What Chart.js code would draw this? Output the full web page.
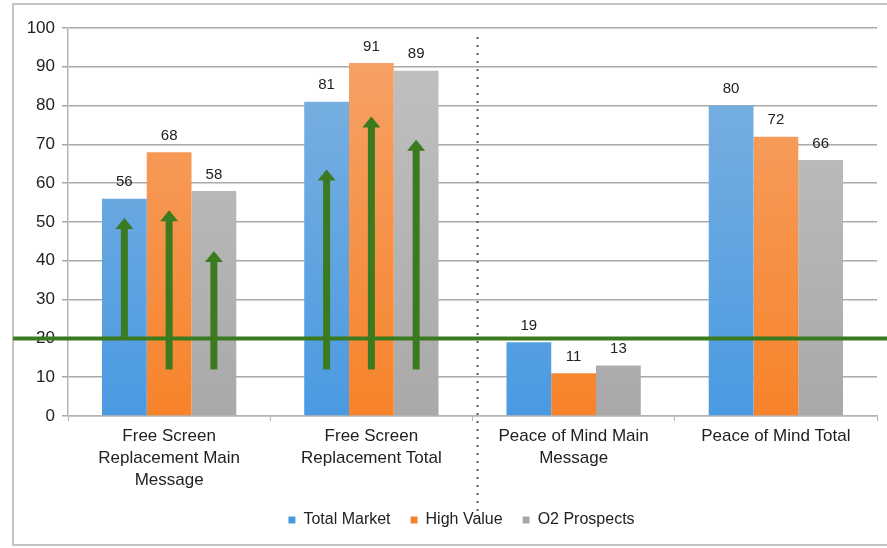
<!DOCTYPE html>
<html lang="en">
<head>
    <meta charset="UTF-8">
    <title>Free Screen Replacement vs Peace of Mind</title>
    <script src="https://cdn.jsdelivr.net/npm/chart.js"></script>
    <style>
        body {
            margin: 0;
            background: #ffffff;
        }
        canvas {
            display: block;
        }
    </style>
</head>
<body>
    <canvas id="msgChart" width="887" height="548"></canvas>

    <script>
        const categories = [
            ["Free Screen", "Replacement Main", "Message"],
            ["Free Screen", "Replacement Total"],
            ["Peace of Mind Main", "Message"],
            ["Peace of Mind Total"]
        ];
        const seriesNames = ["Total Market", "High Value", "O2 Prospects"];
        const totalMarket = [56, 81, 19, 80];
        const highValue = [68, 91, 11, 72];
        const o2Prospects = [58, 89, 13, 66];
        const yMin = 0;
        const yMax = 100;
        const yStep = 10;

        // green target line + arrows (category, series, from value, to value)
        const thresholdValue = 20;
        const arrowCategory = [0, 0, 0, 1, 1, 1];
        const arrowSeries = [0, 1, 2, 0, 1, 2];
        const arrowFrom = [20, 12, 12, 12, 12, 12];
        const arrowTo = [51, 53, 42.5, 63.5, 77.2, 71.2];

        const FONT = '"Liberation Sans", Arial, sans-serif';
        const GREEN = '#3b7a1e';

        function grad(top, bottom) {
            return (ctx) => {
                const area = ctx.chart.chartArea;
                if (!area) return bottom;
                const g = ctx.chart.ctx.createLinearGradient(0, area.top, 0, area.bottom);
                g.addColorStop(0, top);
                g.addColorStop(1, bottom);
                return g;
            };
        }

        const frame = {
            id: 'frame',
            afterLayout(chart) {
                // legend sits a bit right of centre in the original
                chart.legend.left += 16;
                chart.legend.right += 16;
            },
            beforeDraw(chart) {
                const c = chart.ctx;
                c.save();
                c.fillStyle = '#fff';
                c.fillRect(0, 0, chart.width, chart.height);
                c.strokeStyle = '#c4c4c4';
                c.lineWidth = 2;
                c.strokeRect(13, 4, chart.width, chart.height - 7);
                c.restore();
            }
        };

        const valueLabels = {
            id: 'valueLabels',
            afterDatasetsDraw(chart) {
                const c = chart.ctx;
                c.save();
                c.font = '15px ' + FONT;
                c.fillStyle = '#222';
                c.textAlign = 'center';
                c.textBaseline = 'bottom';
                chart.data.datasets.forEach((ds, i) => {
                    chart.getDatasetMeta(i).data.forEach((bar, j) => {
                        c.fillText(ds.data[j], bar.x, bar.y - 9);
                    });
                });
                c.restore();
            }
        };

        const overlay = {
            id: 'overlay',
            afterDraw(chart) {
                const c = chart.ctx;
                const y = chart.scales.y;
                const x = chart.scales.x;
                c.save();

                // dotted divider between the two message groups
                const divX = (x.getPixelForValue(1) + x.getPixelForValue(2)) / 2 + 5;
                c.strokeStyle = '#555';
                c.lineWidth = 2;
                c.setLineDash([2, 6]);
                c.beginPath();
                c.moveTo(divX, chart.chartArea.top + 9);
                c.lineTo(divX, chart.legend.top + 20);
                c.stroke();
                c.setLineDash([]);

                // threshold line
                const ty = y.getPixelForValue(thresholdValue);
                c.strokeStyle = GREEN;
                c.lineWidth = 4;
                c.beginPath();
                c.moveTo(13, ty);
                c.lineTo(chart.width, ty);
                c.stroke();

                // arrows
                c.fillStyle = GREEN;
                arrowCategory.forEach((cat, k) => {
                    const ax = chart.getDatasetMeta(arrowSeries[k]).data[cat].x;
                    const y0 = y.getPixelForValue(arrowFrom[k]);
                    const y1 = y.getPixelForValue(arrowTo[k]);
                    const headH = 11, headW = 18, shaftW = 7;
                    c.fillRect(ax - shaftW / 2, y1 + headH - 1, shaftW, y0 - y1 - headH + 1);
                    c.beginPath();
                    c.moveTo(ax, y1);
                    c.lineTo(ax + headW / 2, y1 + headH);
                    c.lineTo(ax - headW / 2, y1 + headH);
                    c.closePath();
                    c.fill();
                });
                c.restore();
            }
        };

        const ctx = document.getElementById('msgChart').getContext('2d');
        const chart = new Chart(ctx, {
            type: 'bar',
            data: {
                labels: categories,
                datasets: [
                    { label: seriesNames[0], data: totalMarket, backgroundColor: grad('#80b3e0', '#4a9ae2') },
                    { label: seriesNames[1], data: highValue, backgroundColor: grad('#f6a46c', '#f7832a') },
                    { label: seriesNames[2], data: o2Prospects, backgroundColor: grad('#c2c2c2', '#a9a9a9') }
                ]
            },
            options: {
                responsive: false,
                animation: false,
                categoryPercentage: 0.664,
                barPercentage: 1,
                layout: {
                    padding: { left: 14, right: 10, top: 28, bottom: 10 }
                },
                scales: {
                    x: {
                        afterFit(scale) { scale.height = 76; },
                        grid: {
                            drawOnChartArea: false,
                            tickLength: 5,
                            color: '#b5b5b5'
                        },
                        border: { color: '#b5b5b5', width: 1.5 },
                        ticks: {
                            padding: 4,
                            color: '#222',
                            maxRotation: 0,
                            font: { family: FONT, size: 17, lineHeight: 1.3 }
                        }
                    },
                    y: {
                        min: yMin,
                        max: yMax,
                        afterFit(scale) { scale.width = 54; },
                        grid: {
                            color: '#a9a9a9',
                            lineWidth: 1.5,
                            tickLength: 6
                        },
                        border: { color: '#b5b5b5', width: 1.5 },
                        ticks: {
                            stepSize: yStep,
                            padding: 7,
                            color: '#222',
                            font: { family: FONT, size: 17 }
                        }
                    }
                },
                plugins: {
                    legend: {
                        position: 'bottom',
                        labels: {
                            boxWidth: 7,
                            boxHeight: 7,
                            padding: 20,
                            color: '#222',
                            font: { family: FONT, size: 16 }
                        }
                    },
                    tooltip: { enabled: false }
                }
            },
            plugins: [frame, valueLabels, overlay]
        });
    </script>
</body>
</html>
